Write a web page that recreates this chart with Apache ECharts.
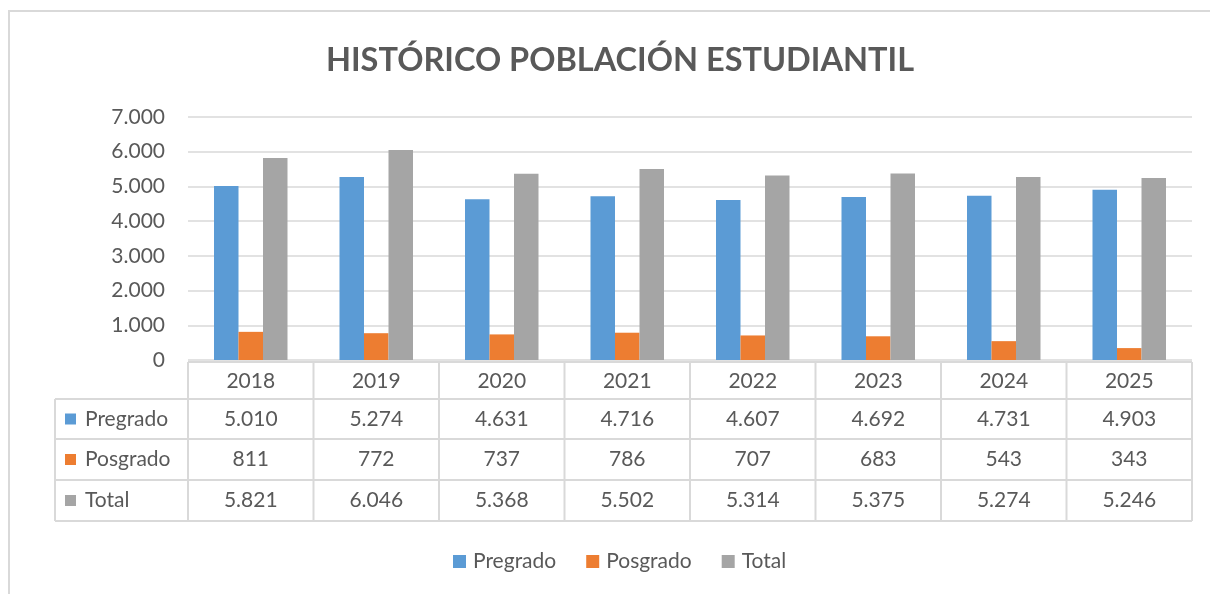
<!DOCTYPE html>
<html>
<head>
<meta charset="utf-8">
<script src="https://cdn.jsdelivr.net/npm/echarts@6/dist/echarts.min.js"></script>
<style>
  html, body { margin: 0; padding: 0; background: #fff; }
  #chart { width: 1210px; height: 594px; }
</style>
</head>
<body>
<div id="chart"></div>
<script>
// Student population by year
const years = ['2018', '2019', '2020', '2021', '2022', '2023', '2024', '2025'];
const pregrado = [5010, 5274, 4631, 4716, 4607, 4692, 4731, 4903];
const posgrado = [811, 772, 737, 786, 707, 683, 543, 343];
const total = [5821, 6046, 5368, 5502, 5314, 5375, 5274, 5246];
const seriesNames = ['Pregrado', 'Posgrado', 'Total'];
const seriesColors = ['#5B9BD5', '#ED7D31', '#A5A5A5'];

const FONT = 'Lato, "Open Sans", sans-serif';
const TEXT = '#595959';
const LINE = '#D9D9D9';

// thousands separator with a dot
function fmt(n) {
  return String(n).replace(/\B(?=(\d{3})+(?!\d))/g, '.');
}

const GRID = { left: 188, right: 18, top: 117, bottom: 234 };

const chart = echarts.init(document.getElementById('chart'), null, { renderer: 'canvas' });

const seriesData = [pregrado, posgrado, total];

chart.setOption({
  animation: false,
  backgroundColor: '#fff',
  title: {
    text: 'HISTÓRICO POBLACIÓN ESTUDIANTIL',
    left: 615,
    top: 39,
    textAlign: 'center',
    textStyle: { fontFamily: FONT, fontSize: 32.5, fontWeight: 'bold', color: TEXT }
  },
  legend: {
    data: seriesNames,
    left: 448,
    top: 546,
    itemWidth: 13,
    itemHeight: 13,
    itemGap: 30,
    icon: 'rect',
    textStyle: { fontFamily: FONT, fontSize: 21, color: TEXT, padding: [0, 0, 0, 2] }
  },
  grid: GRID,
  xAxis: {
    type: 'category',
    data: years,
    axisLine: { show: false },
    axisTick: { show: false },
    axisLabel: { show: false }
  },
  yAxis: {
    type: 'value',
    min: 0,
    max: 7000,
    interval: 1000,
    axisLine: { show: false },
    axisTick: { show: false },
    axisLabel: {
      margin: 23,
      fontFamily: FONT,
      fontSize: 21,
      color: TEXT,
      formatter: v => fmt(v)
    },
    splitLine: { lineStyle: { color: LINE, width: 1.6 } }
  },
  series: seriesNames.map((name, i) => ({
    name,
    type: 'bar',
    data: seriesData[i],
    barWidth: 24.5,
    barGap: '0%',
    itemStyle: { color: seriesColors[i] }
  }))
});

// Data table under the plot, laid out from the category axis
function buildTable() {
  const n = years.length;
  const width = chart.getWidth();
  const x0 = GRID.left;
  const x1 = width - GRID.right;
  const colW = (x1 - x0) / n;
  const labelLeft = 55;
  const rows = [362, 399, 439, 480, 521]; // header, three series rows
  const els = [];
  const lineStyle = { stroke: LINE, lineWidth: 2 };

  // outer frame of the chart
  els.push({ type: 'rect', shape: { x: 9, y: 11, width: 1400, height: 800 },
    style: { fill: 'none', stroke: LINE, lineWidth: 2 }, silent: true });

  // horizontal lines
  els.push({ type: 'line', shape: { x1: x0, y1: rows[0], x2: x1, y2: rows[0] }, style: lineStyle });
  for (let r = 1; r < rows.length; r++) {
    els.push({ type: 'line', shape: { x1: labelLeft, y1: rows[r], x2: x1, y2: rows[r] }, style: lineStyle });
  }
  // vertical lines
  els.push({ type: 'line', shape: { x1: labelLeft, y1: rows[1], x2: labelLeft, y2: rows[4] }, style: lineStyle });
  for (let c = 0; c <= n; c++) {
    const x = x0 + c * colW;
    els.push({ type: 'line', shape: { x1: x, y1: rows[0], x2: x, y2: rows[4] }, style: lineStyle });
  }

  const textStyle = (text, x, y, align) => ({
    type: 'text',
    x, y,
    style: {
      text,
      fontFamily: FONT,
      fontSize: 21,
      fill: TEXT,
      align: align || 'center',
      verticalAlign: 'middle'
    }
  });

  // header: years
  years.forEach((yr) => {
    const cx = chart.convertToPixel({ xAxisIndex: 0 }, yr);
    els.push(textStyle(yr, cx, (rows[0] + rows[1]) / 2 + 1));
  });

  // series rows with legend keys
  seriesNames.forEach((name, r) => {
    const cy = (rows[r + 1] + rows[r + 2]) / 2;
    els.push({ type: 'rect', shape: { x: 65, y: cy - 5.5, width: 11, height: 11 },
      style: { fill: seriesColors[r] } });
    els.push(textStyle(name, 85, cy, 'left'));
    seriesData[r].forEach((v, i) => {
      const cx = chart.convertToPixel({ xAxisIndex: 0 }, years[i]);
      els.push(textStyle(fmt(v), cx, cy));
    });
  });

  chart.setOption({ graphic: { elements: els } });
}

buildTable();
</script>
</body>
</html>
